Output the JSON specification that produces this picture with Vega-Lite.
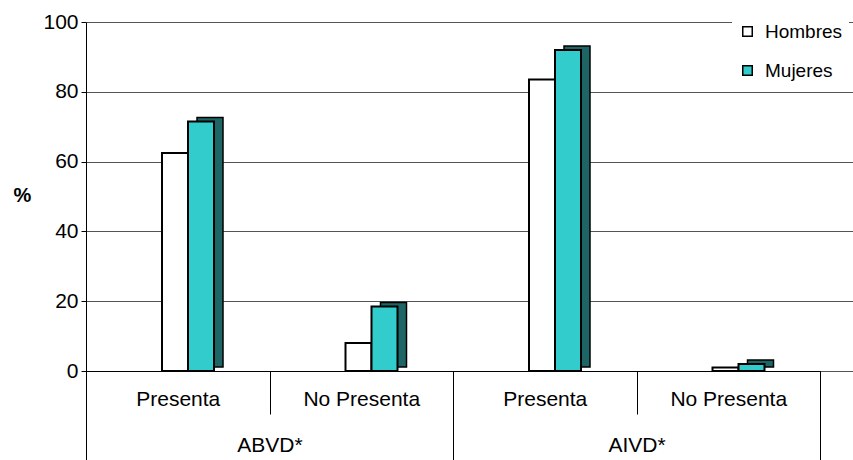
{
  "$schema": "https://vega.github.io/schema/vega-lite/v6.json",
  "width": 767,
  "height": 349,
  "autosize": "none",
  "padding": {"left": 86, "top": 22, "right": 0, "bottom": 89},
  "background": "white",
  "config": {"view": {"stroke": null}, "font": "Liberation Sans, Arial"},
  "data": {
    "values": [
      {"cat": "ABVD|Presenta", "grupo": "ABVD*", "sexo": "Hombres", "pct": 62.5},
      {"cat": "ABVD|Presenta", "grupo": "ABVD*", "sexo": "Mujeres", "pct": 71.5},
      {"cat": "ABVD|No Presenta", "grupo": "ABVD*", "sexo": "Hombres", "pct": 8},
      {"cat": "ABVD|No Presenta", "grupo": "ABVD*", "sexo": "Mujeres", "pct": 18.5},
      {"cat": "AIVD|Presenta", "grupo": "AIVD*", "sexo": "Hombres", "pct": 83.5},
      {"cat": "AIVD|Presenta", "grupo": "AIVD*", "sexo": "Mujeres", "pct": 92},
      {"cat": "AIVD|No Presenta", "grupo": "AIVD*", "sexo": "Hombres", "pct": 1},
      {"cat": "AIVD|No Presenta", "grupo": "AIVD*", "sexo": "Mujeres", "pct": 2}
    ]
  },
  "layer": [
    {
      "encoding": {
        "x": {
          "field": "cat", "type": "nominal", "sort": null,
          "scale": {"paddingInner": 0, "paddingOuter": 0.0899, "align": 0},
          "axis": {
            "title": null, "tickBand": "extent", "tickSize": 43, "tickColor": "black",
            "domain": false, "labelAngle": 0, "labelFontSize": 21, "labelColor": "black",
            "labelPadding": -26, "labelExpr": "split(datum.label, '|')[1]", "grid": false
          }
        },
        "y": {
          "field": "pct", "type": "quantitative",
          "scale": {"domain": [0, 100], "nice": false},
          "axis": {
            "title": "%", "titleAngle": 0, "titleFontSize": 20, "titleFontWeight": "bold",
            "titleColor": "black",
            "titleX": -64, "titleY": 173, "titleAlign": "center", "titleBaseline": "middle",
            "values": [0, 20, 40, 60, 80, 100], "grid": true, "gridColor": "#555",
            "domainColor": "black", "tickColor": "black", "tickSize": 5,
            "labelFontSize": 21, "labelColor": "black", "labelPadding": 3
          }
        }
      },
      "layer": [
        {
          "transform": [{"filter": "datum.sexo == 'Mujeres'"}],
          "mark": {"type": "bar", "color": "#1E6666", "stroke": "black", "strokeWidth": 1.5, "yOffset": -4},
          "encoding": {
            "xOffset": {
              "field": "sexo", "type": "nominal",
              "scale": {"domain": ["Hombres", "Mujeres"], "range": [85, 137], "paddingOuter": 0, "paddingInner": 0}
            }
          }
        },
        {
          "mark": {"type": "bar", "stroke": "black", "strokeWidth": 2},
          "encoding": {
            "xOffset": {
              "field": "sexo", "type": "nominal",
              "scale": {"domain": ["Hombres", "Mujeres"], "range": [76, 128], "paddingOuter": 0, "paddingInner": 0}
            },
            "color": {
              "field": "sexo", "type": "nominal",
              "scale": {"domain": ["Hombres", "Mujeres"], "range": ["#ffffff", "#33CCCC"]},
              "legend": {
                "title": null, "orient": "none", "legendX": 646, "legendY": -6,
                "symbolType": "square", "symbolSize": 90, "symbolStrokeColor": "black",
                "symbolStrokeWidth": 1.5, "labelFontSize": 19, "labelColor": "black",
                "rowPadding": 19, "labelOffset": 8, "fillColor": "white", "padding": 6
              }
            }
          }
        }
      ],
      "resolve": {"scale": {"xOffset": "independent"}}
    },
    {
      "mark": {"type": "point", "opacity": 0},
      "encoding": {
        "x": {
          "field": "grupo", "type": "nominal", "sort": null,
          "scale": {"range": [0, 734], "paddingInner": 0, "paddingOuter": 0},
          "axis": {
            "orient": "bottom", "title": null, "tickBand": "extent", "tickSize": 89,
            "tickColor": "black", "domain": true, "domainColor": "black", "labelAngle": 0,
            "labelFontSize": 21, "labelColor": "black", "labelPadding": -26, "grid": false
          }
        }
      }
    }
  ],
  "resolve": {"scale": {"x": "independent"}}
}
